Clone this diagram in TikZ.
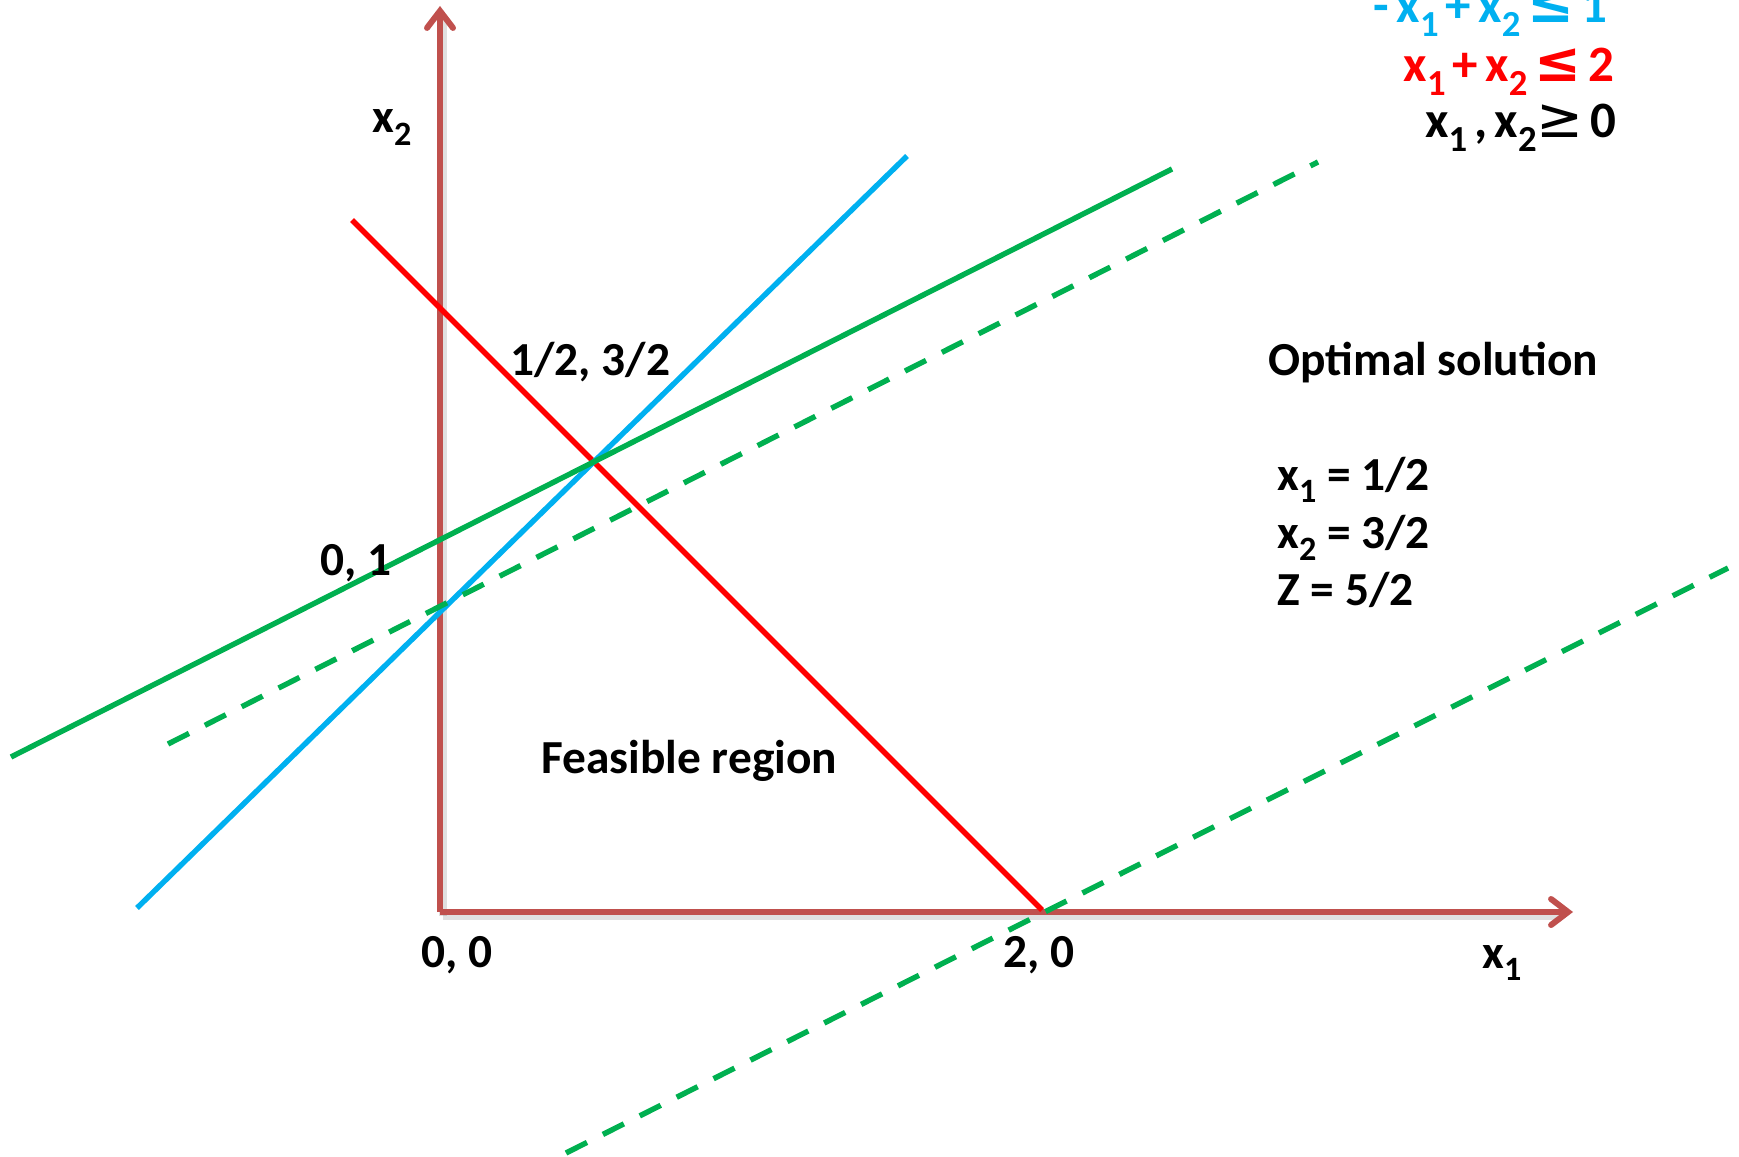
\documentclass[tikz,border=0pt]{standalone}
\usepackage{fontspec}
\setmainfont{Carlito}
\newfontfamily\symf{DejaVu Sans}
\usetikzlibrary{arrows.meta}
\definecolor{axisred}{RGB}{192,80,77}
\definecolor{lpblue}{RGB}{0,176,240}
\definecolor{lpred}{RGB}{255,0,0}
\definecolor{lpgreen}{RGB}{0,176,80}
\newcommand{\sbs}[1]{\raisebox{-0.27em}{\scalebox{0.72}{#1}}}
\newcommand{\hs}{\hspace{0.14em}}
\newcommand{\leqsym}{{\symf\bfseries\scalebox{1.1}{≤}}}
\newcommand{\geqsym}{{\symf\mdseries\scalebox{1.1}{≥}}}
\tikzset{
  axis/.style={draw=axisred, line width=3pt, -{Straight Barb[length=8.5pt,width=13pt,line cap=round]}},
  axshadow/.style={draw=black, opacity=0.12, line width=4pt},
  cline/.style={line width=2.7pt},
  dline/.style={line width=2.7pt, draw=lpgreen, dash pattern=on 11.75pt off 8.9pt},
  lbl/.style={font=\fontsize{23.7}{28}\selectfont\bfseries, inner sep=0pt},
  cst/.style={font=\fontsize{25.5}{30}\selectfont\bfseries, inner sep=0pt},
}
\begin{document}
\begin{tikzpicture}[x=0.5pt,y=-0.5pt]
\useasboundingbox (0,0) rectangle (1739,1156);
% coordinates
\coordinate (O) at (440,912);
\coordinate (ytop) at (440,6);
\coordinate (xend) at (1573,912);
\coordinate (r1) at (352,220);
\coordinate (r2) at (1042,910);
\coordinate (b1) at (137,908);
\coordinate (b2) at (907,156);
\coordinate (g1) at (11,757);
\coordinate (g2) at (1172,169);
\coordinate (d1) at (168,744);
\coordinate (d2) at (1318,162);
\coordinate (e1) at (566,1153);
\coordinate (e2) at (1728,568);
% axis shadows
\draw[axshadow] ([shift={(3,4)}]O) -- ([shift={(3,10)}]ytop) ;
\draw[axshadow] ([shift={(3,4)}]O) -- ([shift={(-12,4)}]xend);
% axes
\draw[axis] (O) -- (ytop);
\draw[axis] (O) -- (xend);
% constraint lines
\draw[cline, draw=lpred] (r1) -- (r2);
\draw[cline, draw=lpblue] (b1) -- (b2);
\draw[cline, draw=lpgreen] (g1) -- (g2);
\draw[dline] (d1) -- (d2);
\draw[dline] (e1) -- (e2);
% labels
\node[lbl, anchor=base west] (lx2) at (372,133) {x\sbs{2}};
\node[lbl, anchor=base west] (lx1) at (1482,968) {x\sbs{1}};
\node[lbl, anchor=base west] (l00) at (421,967) {0, 0};
\node[lbl, anchor=base west] (l20) at (1003,967) {2, 0};
\node[lbl, anchor=base west] (l01) at (320,575) {0, 1};
\node[lbl, anchor=base west] (lopt) at (510,375) {1/2, 3/2};
\node[lbl, anchor=base west] (lfeas) at (541,773) {Feasible region};
\node[lbl, anchor=base west] (ltitle) at (1268,375) {Optimal solution};
\node[lbl, anchor=base west] (ls1) at (1277,490) {x\sbs{1} = 1/2};
\node[lbl, anchor=base west] (ls2) at (1277,548) {x\sbs{2} = 3/2};
\node[lbl, anchor=base west] (ls3) at (1277,605) {Z = 5/2};
% constraints
\node[cst, anchor=base east, text=lpblue] (c1) at (1608,23) {-\hs x\sbs{1}\hs+\hs x\sbs{2}\hs\leqsym\hs 1};
\node[cst, anchor=base east, text=lpred] (c2) at (1615,82) {x\sbs{1}\hs+\hs x\sbs{2}\hs\leqsym\hs 2};
\node[cst, anchor=base east, text=black] (c3) at (1617,138) {x\sbs{1}\hs,\hs x\sbs{2}\geqsym\hs 0};
\end{tikzpicture}
\end{document}
